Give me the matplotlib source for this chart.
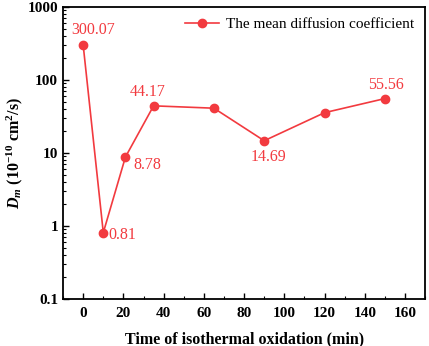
import matplotlib
matplotlib.use("Agg")
import matplotlib.pyplot as plt
import matplotlib.ticker as ticker

# data
time_min = [0, 10, 21, 35, 65, 90, 120, 150]
dm_vals = [300.07, 0.81, 8.78, 44.17, 41.0, 14.69, 35.6, 55.56]

# labelled points: (index, text, dx, dy, ha, va) offsets in points
labels = [
    (0, "300.07", 7, 5, "center", "bottom"),
    (1, "0.81", 4, -2, "left", "center"),
    (2, "8.78", 6, -6, "left", "center"),
    (3, "44.17", -4, 4, "center", "bottom"),
    (5, "14.69", 3, -6, "center", "top"),
    (7, "55.56", 1, 4, "center", "bottom"),
]

RED = "#F23A3F"

plt.rcParams["font.family"] = ["Liberation Serif", "DejaVu Serif"]
plt.rcParams["mathtext.fontset"] = "custom"
plt.rcParams["mathtext.it"] = "Liberation Serif:italic:bold"
plt.rcParams["mathtext.rm"] = "Liberation Serif:bold"

fig = plt.figure(figsize=(4.29, 3.46), dpi=100)
ax = fig.add_axes([0.147, 0.136, 0.844, 0.844])

ax.plot(time_min, dm_vals, color=RED, marker="o", markersize=6,
        linewidth=1.2, label="The mean diffusion coefficient")

for i, txt, dx, dy, ha, va in labels:
    ax.annotate(txt, (time_min[i], dm_vals[i]), xytext=(dx, dy),
                textcoords="offset points", ha=ha, va=va,
                color=RED, fontsize=11.5)

ax.set_yscale("log")
ax.set_ylim(0.1, 1000)
ax.set_xlim(-10, 170)
ax.set_xticks(range(0, 161, 20))
ax.xaxis.set_minor_locator(ticker.MultipleLocator(10))
ax.yaxis.set_major_formatter(ticker.FuncFormatter(lambda v, p: f"{v:g}"))
ax.yaxis.set_minor_formatter(ticker.NullFormatter())

ax.tick_params(which="both", direction="in", top=False, right=False)
ax.tick_params(which="major", length=4, width=1, labelsize=11)
ax.tick_params(axis="x", which="major", pad=6)
ax.tick_params(which="minor", length=2, width=0.8)
for lab in ax.get_xticklabels() + ax.get_yticklabels():
    lab.set_fontweight("bold")
for sp in ax.spines.values():
    sp.set_linewidth(1.3)

ax.set_xlabel("Time of isothermal oxidation (min)", fontsize=11.5,
              fontweight="bold", labelpad=8)
ax.set_ylabel(r"$D_m$ (10$^{-10}$ cm$^2$/s)", fontsize=11.5,
              fontweight="bold", labelpad=2)

ax.legend(loc="upper right", frameon=False, fontsize=11,
          handlelength=2.2, borderaxespad=0.3, handletextpad=0.5)

fig.savefig("out.png", dpi=100)
